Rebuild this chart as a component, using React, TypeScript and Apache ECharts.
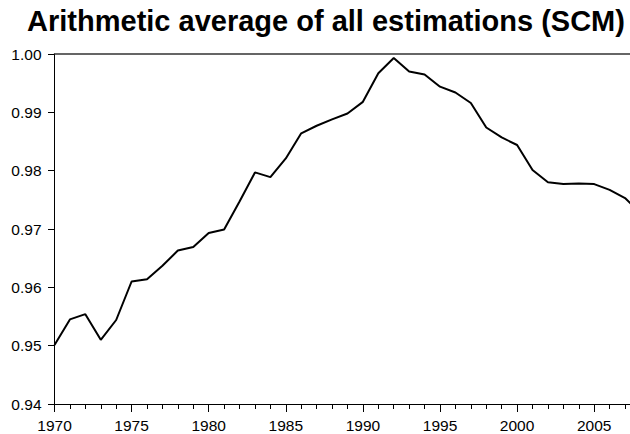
import React, { useEffect, useRef } from "react";
import * as echarts from "echarts";

const years: number[] = [
  1970, 1971, 1972, 1973, 1974, 1975, 1976, 1977, 1978, 1979,
  1980, 1981, 1982, 1983, 1984, 1985, 1986, 1987, 1988, 1989,
  1990, 1991, 1992, 1993, 1994, 1995, 1996, 1997, 1998, 1999,
  2000, 2001, 2002, 2003, 2004, 2005, 2006, 2007, 2008,
];
const avgValues: number[] = [
  0.9501, 0.9545, 0.9554, 0.951, 0.9544, 0.961, 0.9614, 0.9637, 0.9663, 0.9669,
  0.9693, 0.9699, 0.9747, 0.9797, 0.9789, 0.9821, 0.9864, 0.9877, 0.9888, 0.9898,
  0.9918, 0.9967, 0.9993, 0.997, 0.9965, 0.9944, 0.9934, 0.9916, 0.9874, 0.9857,
  0.9844, 0.9801, 0.978, 0.9777, 0.9778, 0.9777, 0.9767, 0.9753, 0.9727,
];
const titleText = "Arithmetic average of all estimations (SCM)";

export default function App() {
  const ref = useRef<HTMLDivElement>(null);
  useEffect(() => {
    if (!ref.current) return;
    const chart = echarts.init(ref.current, null, { renderer: "svg" });
    const font = "'Liberation Sans', Arial, sans-serif";
    chart.setOption({
      animation: false,
      backgroundColor: "#ffffff",
      graphic: [
        {
          type: "text",
          x: 326,
          y: 21,
          style: {
            text: titleText,
            align: "center",
            verticalAlign: "middle",
            fontFamily: font,
            fontWeight: "bold",
            fontSize: 29,
            fill: "#000",
          },
        },
      ],
      grid: {
        left: 54.5,
        top: 54,
        bottom: 30,
        right: 0.7,
        containLabel: false,
        outerBoundsMode: "none",
      },
      xAxis: [
        {
          type: "value",
          min: 1970,
          max: 2010,
          interval: 5,
          axisLine: { show: true, onZero: false, lineStyle: { color: "#000", width: 1 } },
          axisTick: { show: true, inside: false, length: 8, lineStyle: { color: "#000" } },
          minorTick: { show: true, splitNumber: 5, length: 5, lineStyle: { color: "#000" } },
          splitLine: { show: false },
          axisLabel: {
            fontFamily: font,
            fontSize: 15.5,
            color: "#000",
            margin: 13,
            showMaxLabel: false,
            formatter: (v: number) => String(v),
          },
        },
        {
          type: "value",
          position: "top",
          min: 1970,
          max: 2010,
          axisLine: { show: true, onZero: false, lineStyle: { color: "#333", width: 1.5 } },
          axisTick: { show: false },
          axisLabel: { show: false },
          splitLine: { show: false },
        },
      ],
      yAxis: {
        type: "value",
        min: 0.94,
        max: 1.0,
        interval: 0.01,
        axisLine: { show: true, onZero: false, lineStyle: { color: "#000", width: 1 } },
        axisTick: { show: true, inside: false, length: 6.5, lineStyle: { color: "#000" } },
        splitLine: { show: false },
        axisLabel: {
          fontFamily: font,
          fontSize: 15.5,
          color: "#000",
          margin: 13,
          formatter: (v: number) => v.toFixed(2),
        },
      },
      series: [
        {
          type: "line",
          xAxisIndex: 0,
          data: years.map((y, i) => [y, avgValues[i]]),
          showSymbol: false,
          symbol: "none",
          clip: true,
          lineStyle: { color: "#000", width: 2 },
        },
      ],
    });
    return () => chart.dispose();
  }, []);
  return (
    <div
      style={{
        position: "fixed",
        left: 0,
        top: 0,
        width: 630,
        height: 434,
        overflow: "hidden",
        background: "#fff",
      }}
    >
      <div ref={ref} style={{ width: 672, height: 434 }} />
    </div>
  );
}
